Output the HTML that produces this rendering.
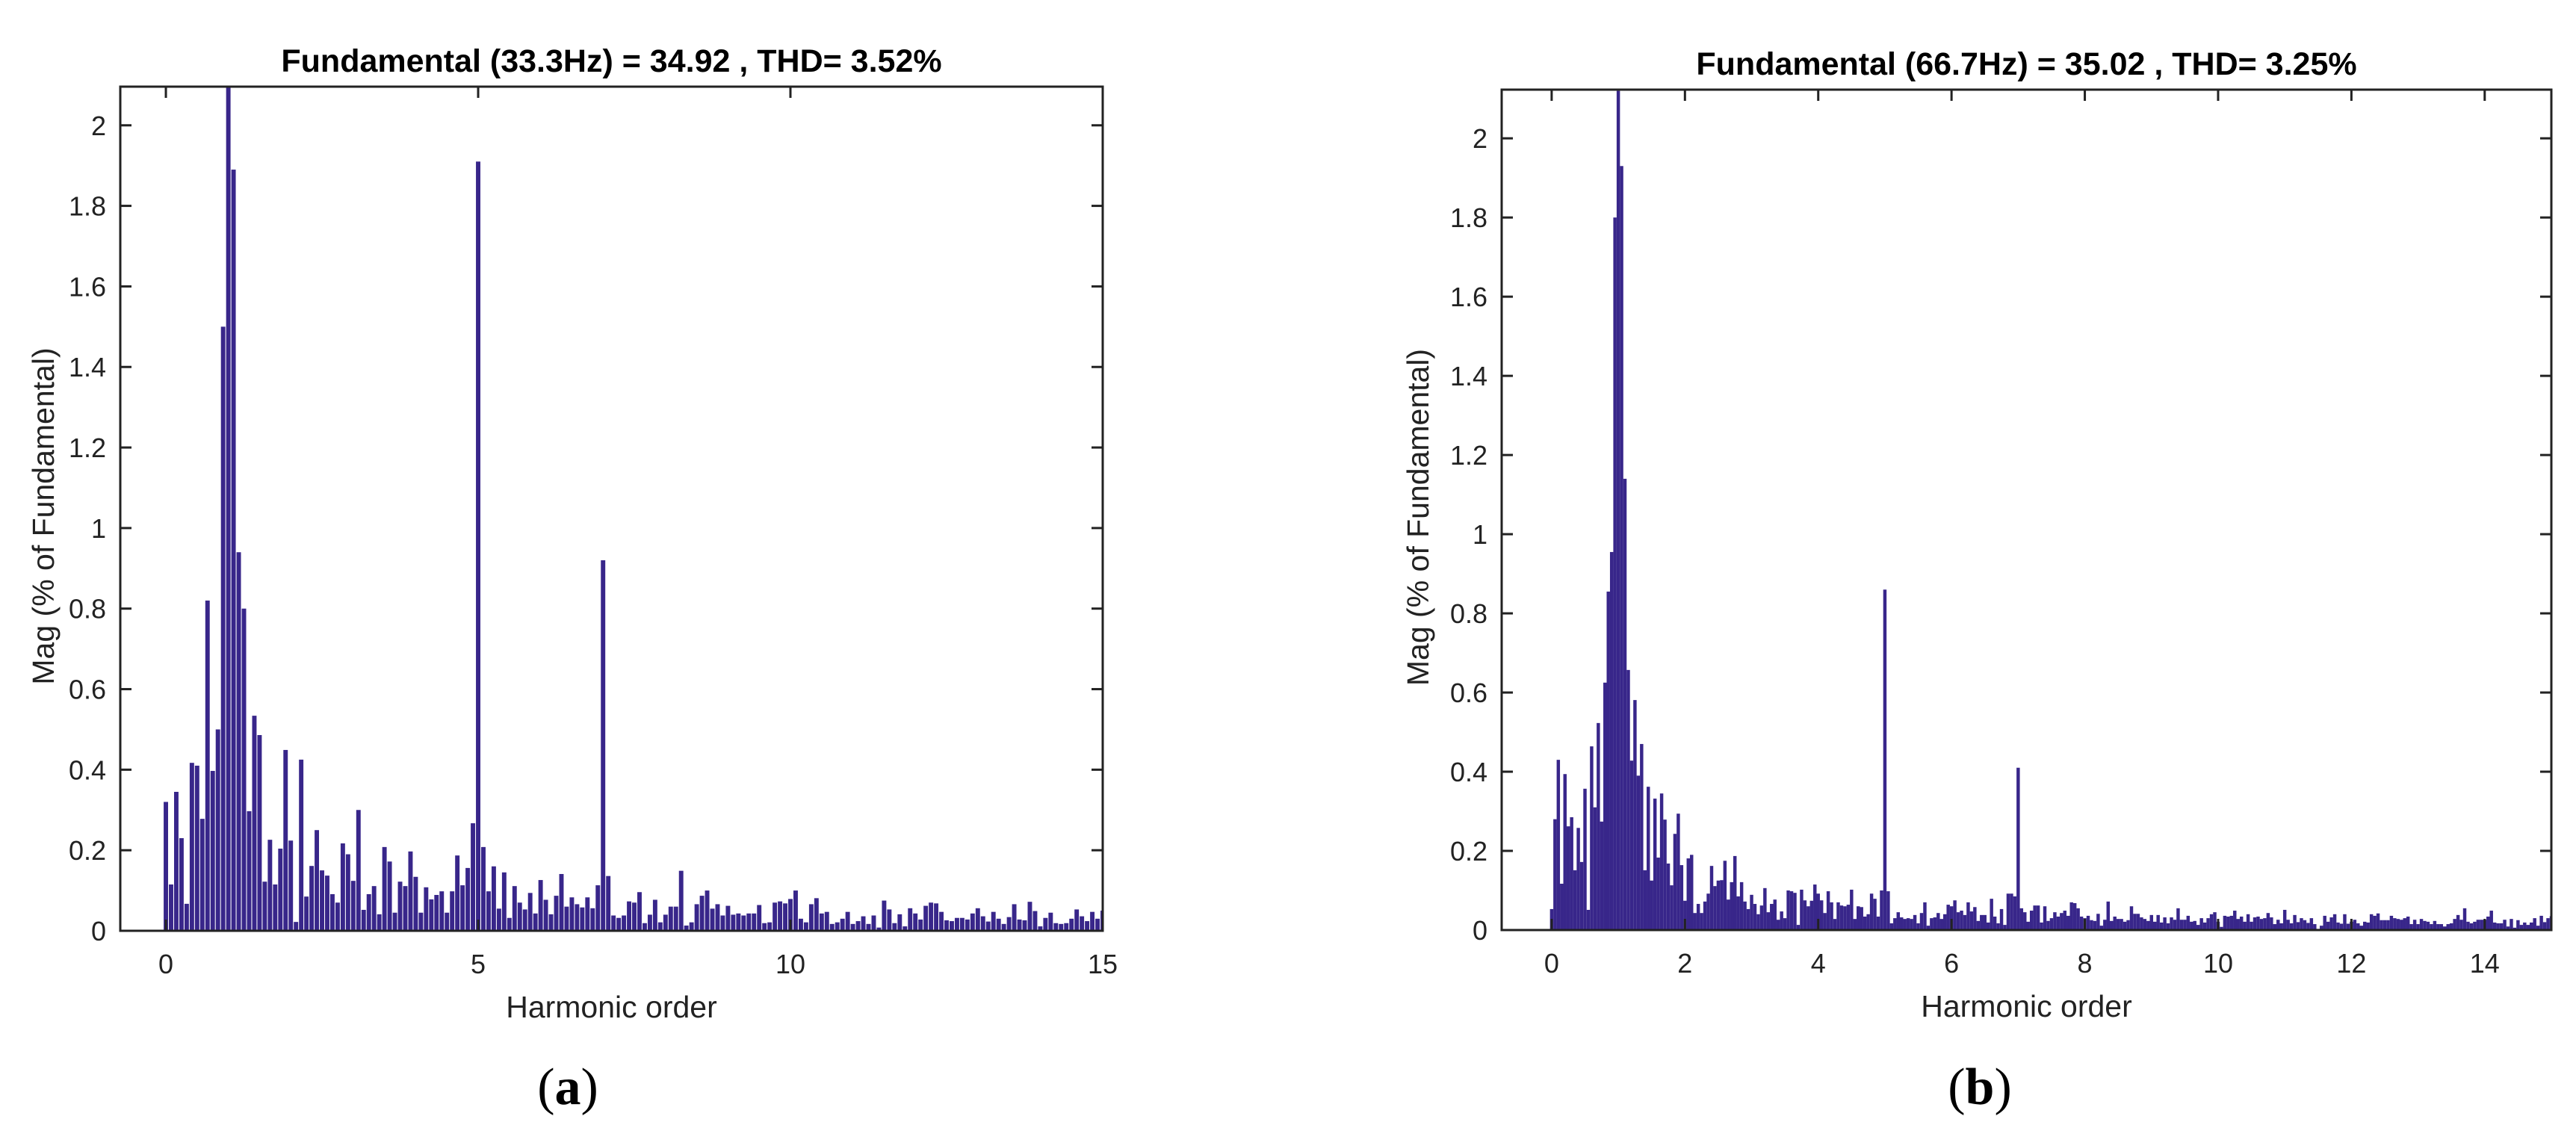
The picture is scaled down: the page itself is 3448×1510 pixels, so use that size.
<!DOCTYPE html>
<html><head><meta charset="utf-8"><style>
html,body{margin:0;padding:0;background:#fff;}
svg{display:block;}
text{font-family:"Liberation Sans",Arial,sans-serif;fill:#222;}
</style></head>
<body>
<svg id="fig" width="3448" height="1510" viewBox="0 0 3448 1510" xmlns="http://www.w3.org/2000/svg"></svg>
<script>
// ---- Data: panel (a), 33.3 Hz, bins every 1/12 harmonic ----
const magsA = [0.32,0.115,0.345,0.23,0.067,0.417,0.41,0.278,0.82,0.397,0.50,1.50,2.1,1.89,0.94,0.80,0.297,0.534,0.486,0.122,
0.226,0.115,0.204,0.449,0.224,0.022,0.425,0.085,0.161,0.25,0.15,0.137,0.091,0.07,0.217,0.19,0.124,0.30,0.052,0.091,
0.111,0.041,0.208,0.172,0.045,0.122,0.111,0.197,0.134,0.045,0.108,0.078,0.089,0.098,0.045,0.098,0.187,0.113,0.156,0.267,
1.91,0.208,0.098,0.16,0.055,0.145,0.032,0.111,0.07,0.053,0.094,0.043,0.126,0.077,0.041,0.087,0.141,0.06,0.083,0.066,
0.058,0.083,0.056,0.113,0.92,0.136,0.038,0.032,0.038,0.073,0.07,0.096,0.019,0.04,0.077,0.021,0.04,0.06,0.06,0.149,
0.013,0.021,0.066,0.087,0.1,0.055,0.066,0.038,0.062,0.04,0.043,0.038,0.043,0.043,0.064,0.019,0.021,0.07,0.073,0.068,
0.079,0.1,0.03,0.021,0.066,0.081,0.043,0.047,0.017,0.021,0.03,0.047,0.017,0.024,0.036,0.017,0.038,0.008,0.075,0.053,
0.019,0.041,0.011,0.056,0.043,0.028,0.062,0.07,0.068,0.047,0.026,0.024,0.032,0.032,0.028,0.043,0.056,0.036,0.023,0.047,
0.03,0.017,0.034,0.066,0.028,0.026,0.072,0.049,0.011,0.032,0.045,0.019,0.017,0.019,0.03,0.053,0.036,0.024,0.047,0.03,0.05];
// ---- Data: panel (b), 66.7 Hz, bins every 1/20 harmonic ----
const magsB = [0.053,0.28,0.43,0.117,0.394,0.262,0.285,0.151,0.258,0.172,0.357,0.051,0.464,0.31,0.523,0.274,0.625,0.855,0.955,1.80,
2.12,1.93,1.14,0.657,0.428,0.581,0.39,0.47,0.151,0.362,0.125,0.332,0.183,0.345,0.279,0.168,0.113,0.243,0.294,0.164,
0.074,0.181,0.19,0.043,0.066,0.043,0.072,0.092,0.162,0.111,0.125,0.126,0.175,0.077,0.121,0.187,0.085,0.121,0.072,0.053,
0.089,0.066,0.04,0.062,0.106,0.045,0.066,0.077,0.026,0.047,0.03,0.1,0.098,0.094,0.013,0.102,0.075,0.06,0.074,0.115,
0.092,0.075,0.043,0.098,0.07,0.028,0.07,0.062,0.06,0.064,0.102,0.028,0.06,0.058,0.034,0.04,0.092,0.079,0.034,0.1,
0.86,0.098,0.017,0.03,0.045,0.032,0.028,0.03,0.028,0.038,0.017,0.043,0.07,0.011,0.03,0.032,0.043,0.028,0.04,0.064,
0.06,0.075,0.045,0.049,0.038,0.07,0.047,0.058,0.023,0.038,0.038,0.019,0.079,0.034,0.017,0.053,0.013,0.092,0.092,0.085,
0.41,0.055,0.045,0.021,0.049,0.062,0.062,0.019,0.06,0.023,0.03,0.045,0.034,0.043,0.049,0.036,0.07,0.068,0.055,0.034,
0.03,0.036,0.025,0.023,0.041,0.011,0.026,0.072,0.023,0.034,0.028,0.028,0.021,0.025,0.06,0.041,0.041,0.032,0.028,0.023,
0.038,0.021,0.038,0.019,0.032,0.017,0.032,0.026,0.055,0.026,0.026,0.036,0.021,0.023,0.013,0.03,0.019,0.03,0.04,0.045,
0.021,0.008,0.036,0.034,0.036,0.049,0.028,0.034,0.021,0.04,0.021,0.032,0.034,0.028,0.03,0.043,0.032,0.015,0.026,0.017,
0.051,0.026,0.017,0.038,0.02,0.03,0.025,0.018,0.03,0.015,0.003,0.011,0.036,0.021,0.032,0.04,0.019,0.016,0.04,0.016,
0.021,0.026,0.017,0.011,0.021,0.019,0.04,0.036,0.042,0.025,0.025,0.025,0.036,0.03,0.028,0.026,0.03,0.034,0.015,0.026,
0.015,0.028,0.023,0.021,0.015,0.023,0.015,0.015,0.009,0.015,0.017,0.028,0.038,0.026,0.055,0.021,0.017,0.021,0.026,0.026,
0.026,0.034,0.049,0.019,0.017,0.017,0.026,0.009,0.028,0.006,0.025,0.013,0.019,0.013,0.019,0.03,0.011,0.036,0.02,0.03,0.035];
const yTicks = [0,0.2,0.4,0.6,0.8,1,1.2,1.4,1.6,1.8,2];
const yTickLabels = ["0","0.2","0.4","0.6","0.8","1","1.2","1.4","1.6","1.8","2"];
const xTicksA = [0,5,10,15];
const xTicksB = [0,2,4,6,8,10,12,14];
const titleA = "Fundamental (33.3Hz) = 34.92 , THD= 3.52%";
const titleB = "Fundamental (66.7Hz) = 35.02 , THD= 3.25%";

const NS = "http://www.w3.org/2000/svg";
const svg = document.getElementById('fig');
function mk(tag, attrs, parent){
  const e = document.createElementNS(NS, tag);
  for (const k in attrs) e.setAttribute(k, attrs[k]);
  (parent||svg).appendChild(e);
  return e;
}

function panel(cfg){
  const g = mk('g', {});
  
  
  const X = v => cfg.L + (v - cfg.xmin) / (cfg.xmax - cfg.xmin) * (cfg.R - cfg.L);
  const Y = v => cfg.B - (v / cfg.ymax) * (cfg.B - cfg.T);
  const bg = mk('g', {fill:'#38268a'}, g);
  
  
  const bw = (X(cfg.step) - X(0)) * cfg.bwFrac;
  cfg.data.forEach((v, i) => {
    const xc = X(i * cfg.step);
    let x0 = xc - bw/2, x1 = xc + bw/2;
    x0 = Math.max(x0, cfg.L); x1 = Math.min(x1, cfg.R);
    if (x1 <= x0) return;
    const yt = Math.max(Y(v), cfg.T);
    const r = mk('rect', {x:x0, y:yt, width:x1-x0, height:cfg.B-yt}, bg);
    
    
  });
  const box = mk('rect', {x:cfg.L, y:cfg.T, width:cfg.R-cfg.L, height:cfg.B-cfg.T, fill:'none', stroke:'#222', 'stroke-width':3}, g);
  
  
  yTicks.forEach((t, k) => {
    const y = Y(t);
    mk('line', {x1:cfg.L, x2:cfg.L+15, y1:y, y2:y, stroke:'#222','stroke-width':3}, g);
    mk('line', {x1:cfg.R, x2:cfg.R-15, y1:y, y2:y, stroke:'#222','stroke-width':3}, g);
    const tx = mk('text', {x:cfg.L-19, y:y+13, 'text-anchor':'end', 'font-size':36}, g);
    tx.textContent = yTickLabels[k];
    
    
  });
  cfg.xTicks.forEach(t => {
    const x = X(t);
    mk('line', {x1:x, x2:x, y1:cfg.B, y2:cfg.B-15, stroke:'#222','stroke-width':3}, g);
    mk('line', {x1:x, x2:x, y1:cfg.T, y2:cfg.T+15, stroke:'#222','stroke-width':3}, g);
    const tx = mk('text', {x:x, y:cfg.B+57, 'text-anchor':'middle', 'font-size':36}, g);
    tx.textContent = String(t);
    
    
  });
  const cx = (cfg.L + cfg.R) / 2;
  const tt = mk('text', {x:cx, y:cfg.T-20, 'text-anchor':'middle', 'font-size':43, 'font-weight':'bold', style:'fill:#000'}, g);
  tt.textContent = cfg.title;
  
  
  const xl = mk('text', {x:cx, y:cfg.B+116, 'text-anchor':'middle', 'font-size':41}, g);
  xl.textContent = 'Harmonic order';
  
  
  const ym = (cfg.T + cfg.B) / 2 + 10;
  const yl = mk('text', {x:cfg.ylx, y:ym, 'text-anchor':'middle', 'font-size':41, transform:'rotate(-90 '+cfg.ylx+' '+ym+')'}, g);
  yl.textContent = 'Mag (% of Fundamental)';
  
  
  const pl = mk('text', {x:cfg.plx, y:1478, 'text-anchor':'middle', 'font-size':70, style:'font-family:"Liberation Serif",serif;fill:#000'}, g);
  pl.innerHTML = '(<tspan font-weight="bold">' + cfg.letter + '</tspan>)';
  
  
}

panel({name:'chart-a', L:161, R:1476, T:116, B:1246, xmin:-0.73, xmax:15, ymax:2.096, step:1/12, bwFrac:0.85,
  data:magsA, xTicks:xTicksA, title:titleA, ylx:72, plx:760, letter:'a'});
panel({name:'chart-b', L:2010, R:3415, T:120, B:1245, xmin:-0.75, xmax:15, ymax:2.123, step:1/20, bwFrac:1.0,
  data:magsB, xTicks:xTicksB, title:titleB, ylx:1912, plx:2650, letter:'b'});
</script>
</body></html>
